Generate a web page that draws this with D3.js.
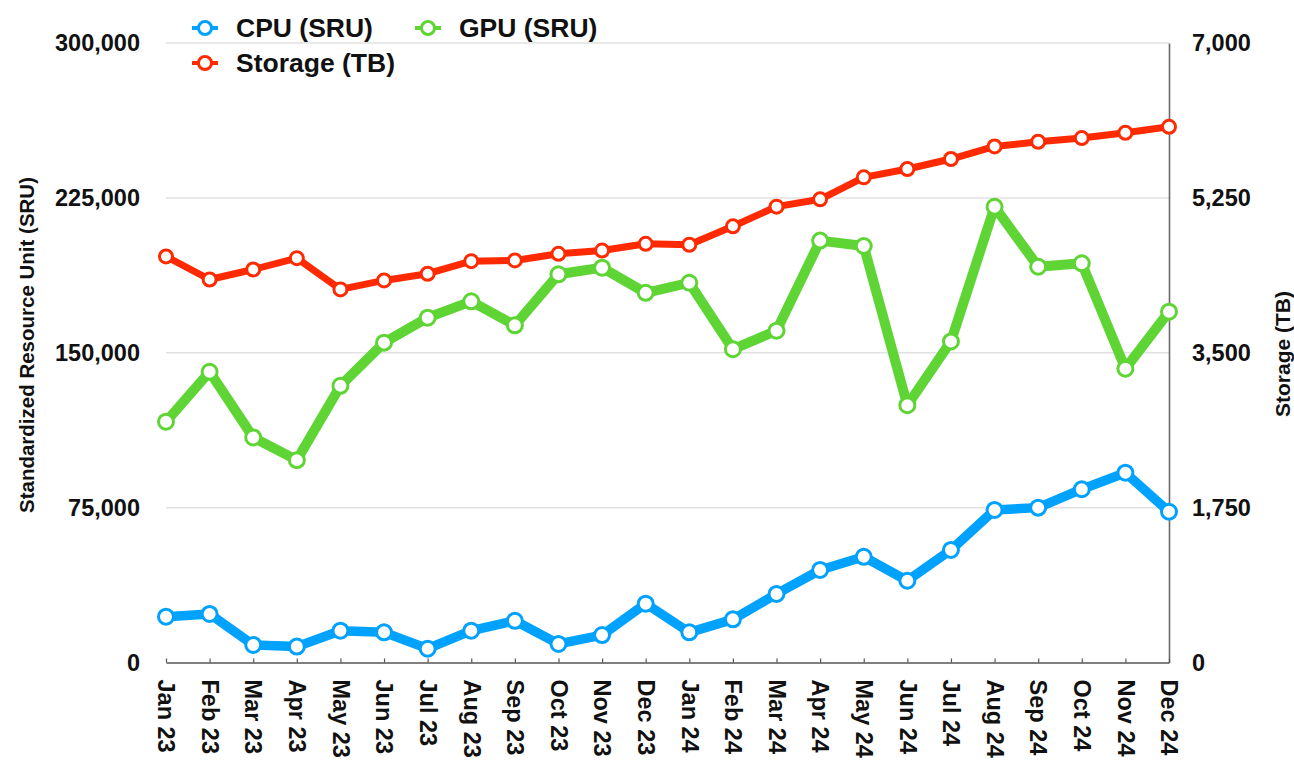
<!DOCTYPE html>
<html><head><meta charset="utf-8">
<script src="https://cdn.jsdelivr.net/npm/d3@7"></script>
<style>body{margin:0;background:#fff}svg{display:block;font-family:"Liberation Sans",Arial,Helvetica,sans-serif}</style>
</head><body><svg id="c" width="1294" height="760"></svg>
<script>
const months = ["Jan 23","Feb 23","Mar 23","Apr 23","May 23","Jun 23","Jul 23","Aug 23","Sep 23","Oct 23","Nov 23","Dec 23",
"Jan 24","Feb 24","Mar 24","Apr 24","May 24","Jun 24","Jul 24","Aug 24","Sep 24","Oct 24","Nov 24","Dec 24"];
const cpu = [22200,23500,8500,7700,15400,14600,6700,15400,20200,9000,13300,28500,14600,20900,33200,44800,51200,39600,54500,73900,75000,83900,91900,73000];
const gpu = [116600,140800,109000,98000,134000,154900,167000,174900,163300,188000,191200,179000,183900,151700,160700,204300,201700,124600,155500,220700,191700,193300,142300,169900];
const storage = [4588,4328,4441,4569,4216,4317,4393,4535,4543,4618,4655,4731,4720,4929,5151,5234,5482,5576,5689,5831,5884,5926,5986,6053];
const leftTicks = [0,75000,150000,225000,300000];
const rightTicks = [0,1750,3500,5250,7000];
const seriesNames = ["CPU (SRU)","GPU (SRU)","Storage (TB)"];
const colors = {cpu:"#00a2ff", gpu:"#5fd535", storage:"#ff2a00"};

const svg = d3.select("#c");
const x0 = 166, x1 = 1169, yTop = 43, yBot = 662.5;
const x = d3.scalePoint().domain(months).range([x0, x1]);
const yL = d3.scaleLinear().domain([0,300000]).range([yBot, yTop]);
const yR = d3.scaleLinear().domain([0,7000]).range([yBot, yTop]);

// gridlines
svg.append("g").selectAll("line").data(leftTicks.filter(d=>d>0)).join("line")
  .attr("x1",x0).attr("x2",x1).attr("y1",d=>yL(d)).attr("y2",d=>yL(d))
  .attr("stroke","#e2e2e2").attr("stroke-width",1.5);

// left axis labels
const gl = svg.append("g").attr("transform",`translate(${x0},0)`)
  .call(d3.axisLeft(yL).tickValues(leftTicks).tickFormat(d3.format(",")).tickSize(0).tickPadding(26));
gl.select(".domain").remove();
gl.selectAll("text").attr("font-size",23.5).attr("font-weight","bold").attr("fill","#111");

// right axis
const gr = svg.append("g").attr("transform",`translate(${x1},0)`)
  .call(d3.axisRight(yR).tickValues(rightTicks).tickFormat(d3.format(",")).tickSize(0).tickPadding(23));
gr.select(".domain").attr("stroke","#6a6a6a").attr("stroke-width",1.6);
gr.selectAll("text").attr("font-size",23.5).attr("font-weight","bold").attr("fill","#111");

// bottom axis
const gb = svg.append("g").attr("transform",`translate(0,${yBot})`)
  .call(d3.axisBottom(x).tickSize(-4).tickSizeOuter(0).tickPadding(0));
gb.select(".domain").attr("stroke","#555").attr("stroke-width",1.6);
gb.selectAll(".tick line").attr("stroke","#555").attr("stroke-width",1.2);
gb.selectAll("text").attr("font-size",23.5).attr("font-weight","bold").attr("fill","#111")
  .attr("transform","rotate(90)").attr("text-anchor","start").attr("dy","0.35em").attr("x",17).attr("y",0);

// axis titles
svg.append("text").attr("transform","translate(34,345) rotate(-90)").attr("text-anchor","middle")
  .attr("font-size",20.5).attr("font-weight","bold").attr("fill","#111").text("Standardized Resource Unit (SRU)");
svg.append("text").attr("transform","translate(1290,354) rotate(-90)").attr("text-anchor","middle")
  .attr("font-size",21).attr("font-weight","bold").attr("fill","#111").text("Storage (TB)");

function drawSeries(vals, scale, color, lw, r){
  const g = svg.append("g");
  g.append("path").datum(vals).attr("fill","none").attr("stroke",color).attr("stroke-width",lw)
    .attr("stroke-linejoin","round")
    .attr("d", d3.line().x((d,i)=>x(months[i])).y(d=>scale(d)));
  g.selectAll("circle").data(vals).join("circle")
    .attr("cx",(d,i)=>x(months[i])).attr("cy",d=>scale(d)).attr("r",r)
    .attr("fill","#fff").attr("stroke",color).attr("stroke-width",3);
}
drawSeries(cpu, yL, colors.cpu, 9.5, 7.5);
drawSeries(gpu, yL, colors.gpu, 10, 7.5);
drawSeries(storage, yR, colors.storage, 7, 6.5);

// legend
const legend = [
  {name:seriesNames[0], color:colors.cpu, lx:192, ly:28},
  {name:seriesNames[1], color:colors.gpu, lx:415, ly:28},
  {name:seriesNames[2], color:colors.storage, lx:192, ly:63}
];
const lg = svg.append("g");
legend.forEach(l=>{
  lg.append("line").attr("x1",l.lx).attr("x2",l.lx+26).attr("y1",l.ly).attr("y2",l.ly)
    .attr("stroke",l.color).attr("stroke-width",4);
  lg.append("circle").attr("cx",l.lx+13).attr("cy",l.ly).attr("r",6.5)
    .attr("fill","#fff").attr("stroke",l.color).attr("stroke-width",3);
  lg.append("text").attr("x",l.lx+44).attr("y",l.ly).attr("dy","0.35em")
    .attr("font-size",26.5).attr("font-weight","bold").attr("fill","#111").text(l.name);
});
</script></body></html>
